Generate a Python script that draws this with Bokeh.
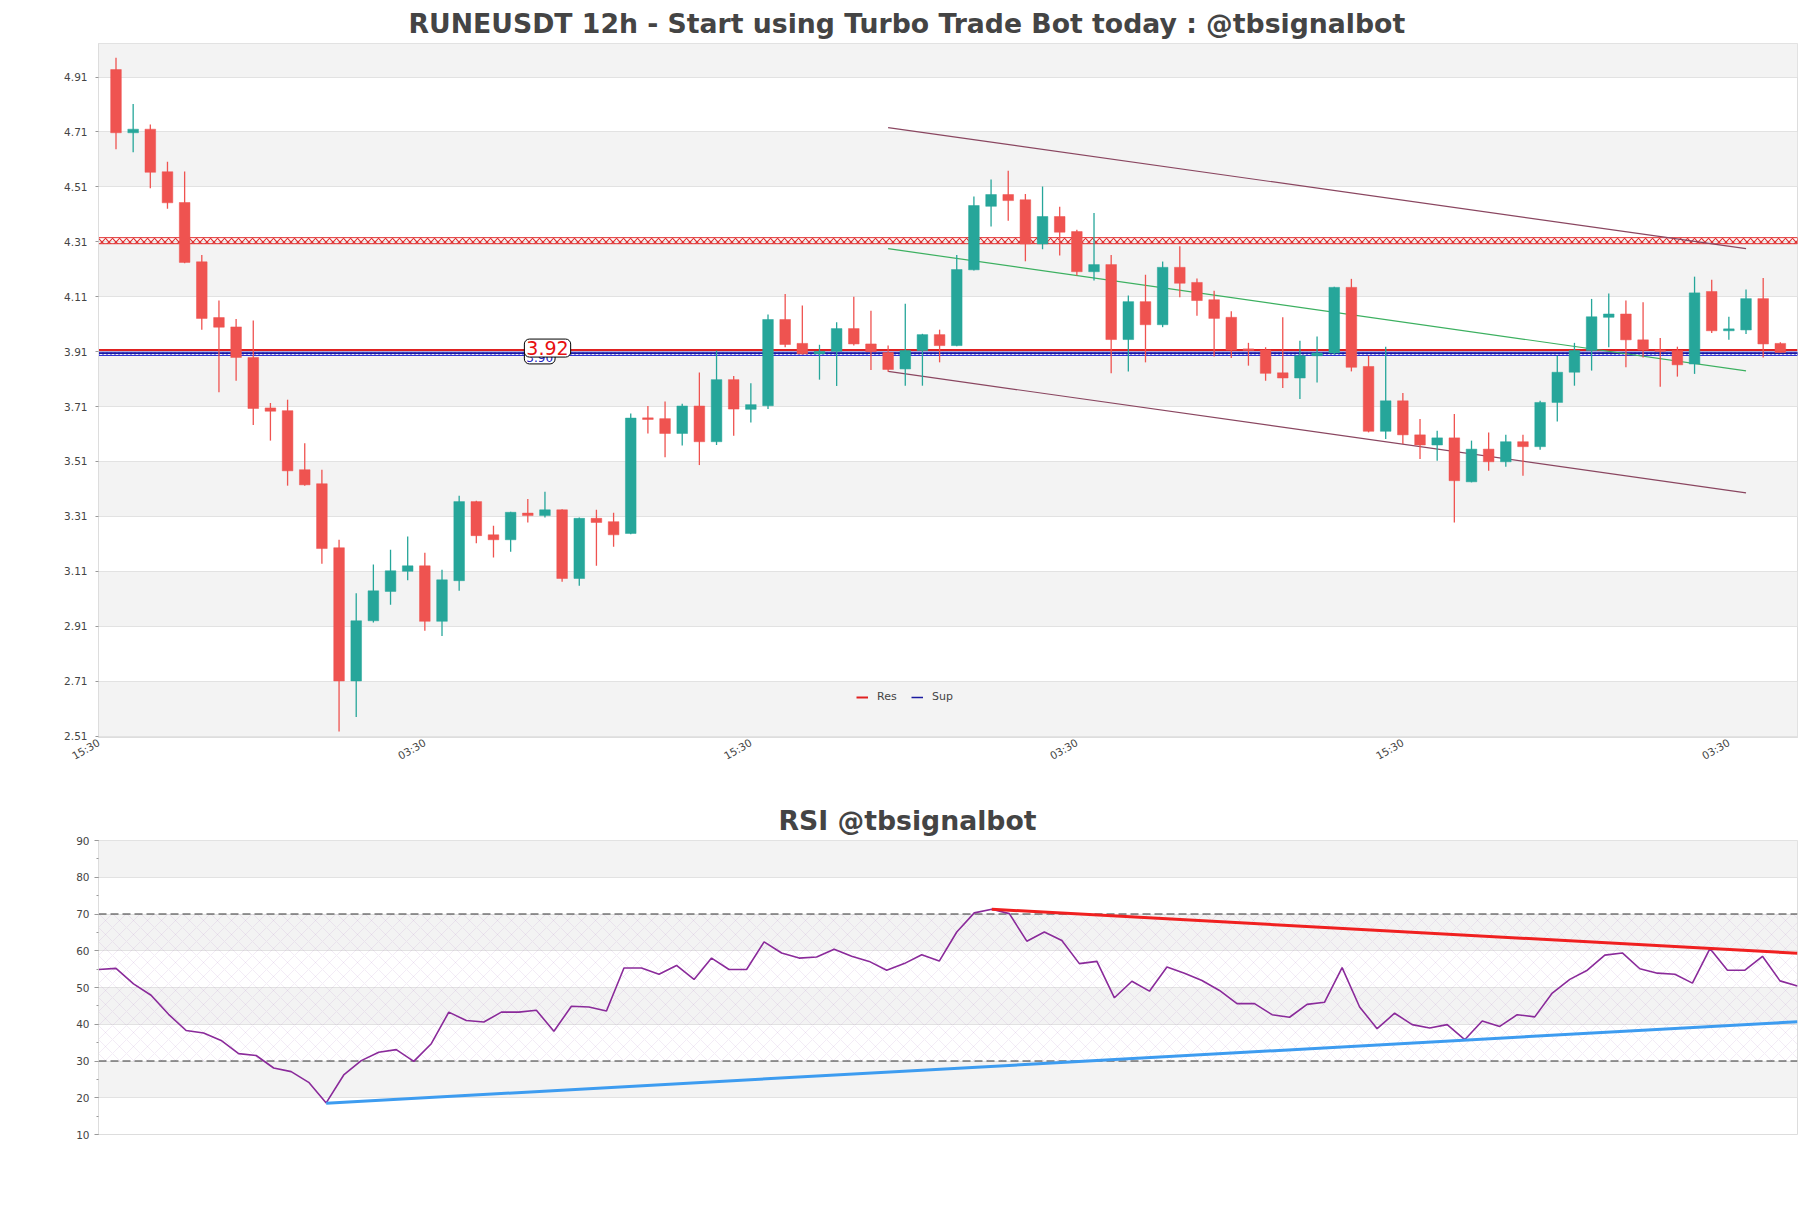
import math
from bokeh.plotting import figure
from bokeh.models import (Range1d, FixedTicker, SingleIntervalTicker, Legend, LegendItem,
                          Label, ColumnDataSource, PrintfTickFormatter)
from bokeh.layouts import column
from bokeh.embed import file_html
from bokeh.resources import INLINE

# ---------------- data ----------------
opens = [4.937, 4.707, 4.72, 4.565, 4.453, 4.237, 4.034, 4.0, 3.889, 3.705,
         3.695, 3.48, 3.429, 3.196, 2.711, 2.93, 3.037, 3.11, 3.13, 2.928,
         3.076, 3.364, 3.243, 3.225, 3.322, 3.313, 3.334, 3.084, 3.303, 3.291,
         3.248, 3.669, 3.666, 3.612, 3.712, 3.582, 3.808, 3.70, 3.713, 4.027,
         3.94, 3.902, 3.911, 3.994, 3.938, 3.907, 3.847, 3.914, 3.972, 3.932,
         4.208, 4.439, 4.482, 4.463, 4.302, 4.402, 4.347, 4.201, 4.227, 3.954,
         4.092, 4.008, 4.217, 4.162, 4.099, 4.035, 3.92, 3.916, 3.833, 3.814,
         3.895, 3.905, 4.144, 3.856, 3.62, 3.731, 3.607, 3.57, 3.596, 3.436,
         3.555, 3.509, 3.582, 3.564, 3.725, 3.835, 3.914, 4.035, 4.047, 3.953,
         3.916, 3.914, 3.865, 4.129, 3.986, 3.989, 4.103, 3.94]
highs = [4.98, 4.812, 4.737, 4.601, 4.566, 4.262, 4.096, 4.029, 4.023, 3.723,
         3.735, 3.576, 3.48, 3.225, 3.03, 3.135, 3.189, 3.237, 3.178, 3.116,
         3.385, 3.367, 3.276, 3.327, 3.373, 3.40, 3.336, 3.306, 3.334, 3.323,
         3.685, 3.712, 3.728, 3.72, 3.834, 3.914, 3.821, 3.795, 4.045, 4.12,
         4.078, 3.935, 4.017, 4.11, 4.059, 3.932, 4.084, 3.975, 3.99, 4.262,
         4.475, 4.537, 4.569, 4.484, 4.511, 4.438, 4.354, 4.415, 4.262, 4.114,
         4.19, 4.238, 4.294, 4.176, 4.132, 4.057, 3.942, 3.926, 4.035, 3.95,
         3.965, 4.146, 4.175, 3.895, 3.928, 3.759, 3.665, 3.622, 3.683, 3.586,
         3.616, 3.607, 3.607, 3.731, 3.895, 3.942, 4.102, 4.122, 4.096, 4.09,
         3.96, 3.928, 4.183, 4.172, 4.037, 4.136, 4.178, 3.944]
lows = [4.647, 4.636, 4.505, 4.43, 4.232, 3.99, 3.762, 3.804, 3.643, 3.586,
        3.422, 3.422, 3.138, 2.527, 2.58, 2.924, 2.988, 3.078, 2.894, 2.875,
        3.039, 3.212, 3.16, 3.181, 3.288, 3.306, 3.072, 3.058, 3.13, 3.2,
        3.245, 3.612, 3.525, 3.568, 3.497, 3.57, 3.604, 3.652, 3.701, 3.926,
        3.90, 3.808, 3.785, 3.932, 3.843, 3.837, 3.786, 3.786, 3.871, 3.93,
        4.205, 4.366, 4.387, 4.239, 4.283, 4.26, 4.187, 4.169, 3.831, 3.838,
        3.871, 3.999, 4.108, 4.041, 3.892, 3.887, 3.859, 3.804, 3.778, 3.738,
        3.798, 3.90, 3.838, 3.616, 3.592, 3.574, 3.519, 3.513, 3.288, 3.434,
        3.476, 3.491, 3.458, 3.553, 3.656, 3.786, 3.841, 3.926, 3.853, 3.889,
        3.782, 3.819, 3.829, 3.978, 3.953, 3.974, 3.889, 3.907]
closes = [4.707, 4.72, 4.563, 4.452, 4.235, 4.031, 3.999, 3.889, 3.703, 3.693,
          3.476, 3.425, 3.193, 2.711, 2.93, 3.039, 3.112, 3.13, 2.928, 3.079,
          3.364, 3.24, 3.225, 3.325, 3.313, 3.334, 3.084, 3.303, 3.288, 3.243,
          3.668, 3.663, 3.612, 3.712, 3.582, 3.808, 3.701, 3.717, 4.027, 3.936,
          3.902, 3.911, 3.994, 3.938, 3.91, 3.845, 3.914, 3.972, 3.932, 4.209,
          4.442, 4.482, 4.46, 4.302, 4.402, 4.345, 4.201, 4.227, 3.954, 4.092,
          4.008, 4.217, 4.159, 4.096, 4.031, 3.916, 3.914, 3.831, 3.814, 3.895,
          3.905, 4.144, 3.853, 3.62, 3.731, 3.607, 3.57, 3.596, 3.44, 3.555,
          3.509, 3.582, 3.564, 3.725, 3.835, 3.914, 4.037, 4.047, 3.953, 3.916,
          3.911, 3.862, 4.124, 3.986, 3.993, 4.103, 3.938, 3.907]

rsi = [54.9, 55.2, 51.0, 47.9, 42.7, 38.3, 37.6, 35.6, 32.0, 31.5,
       28.1, 27.1, 24.2, 18.6, 26.2, 30.1, 32.4, 33.1, 29.9, 34.7,
       43.3, 41.0, 40.6, 43.3, 43.3, 43.8, 38.1, 44.9, 44.7, 43.6,
       55.3, 55.3, 53.6, 56.0, 52.2, 58.0, 54.9, 54.9, 62.4, 59.4,
       58.0, 58.3, 60.4, 58.5, 57.1, 54.7, 56.5, 58.9, 57.2, 65.1,
       70.3, 71.3, 70.1, 62.6, 65.1, 62.8, 56.5, 57.1, 47.2, 51.7,
       49.0, 55.6, 53.9, 51.9, 49.2, 45.6, 45.6, 42.6, 41.9, 45.4,
       46.0, 55.4, 44.7, 38.8, 43.0, 39.9, 39.0, 39.9, 35.8, 40.9,
       39.4, 42.6, 42.0, 48.5, 52.2, 54.7, 58.8, 59.4, 55.1, 53.9,
       53.6, 51.2, 60.6, 54.7, 54.7, 58.5, 51.8, 50.4]

x_tick_pos = [-1, 18, 37, 56, 75, 94]
x_tick_labels = ["15:30", "03:30", "15:30", "03:30", "15:30", "03:30"]
price_ticks = [2.51, 2.71, 2.91, 3.11, 3.31, 3.51, 3.71, 3.91, 4.11, 4.31, 4.51, 4.71, 4.91]

res_band = 4.314          # resistance zone (hatched)
res_level = 3.916         # resistance near price
sup_level = 3.904         # support near price
res_label, sup_label = "3.92", "3.90"

chan_x = [45, 95]
chan_upper = [4.726, 4.285]
chan_mid = [4.285, 3.840]
chan_lower = [3.838, 3.396]

rsi_res_x, rsi_res_y = [51, 97], [71.3, 59.3]
rsi_sup_x, rsi_sup_y = [13, 97], [18.5, 40.7]
rsi_ob, rsi_os = 70, 30

TITLE = "RUNEUSDT 12h - Start using Turbo Trade Bot today : @tbsignalbot"
RSI_TITLE = "RSI @tbsignalbot"

UP, DOWN = "#26a69a", "#ef5350"
FONT = "DejaVu Sans"
XMIN, XMAX = -1.02, 98.0


def style_title(fig, text, offset):
    fig.title.text = text
    fig.title.align = "left"
    fig.title.offset = offset
    fig.title.text_font = FONT
    fig.title.text_font_size = "26.7px"
    fig.title.text_font_style = "bold"
    fig.title.text_color = "#444444"
    fig.title.standoff = 9


# ---------------- main chart ----------------
n = len(closes)
idx = list(range(n))
colors = [UP if c >= o else DOWN for o, c in zip(opens, closes)]
src = ColumnDataSource(dict(x=idx, o=opens, h=highs, l=lows, c=closes,
                            top=[max(o, c) for o, c in zip(opens, closes)],
                            bot=[min(o, c) for o, c in zip(opens, closes)],
                            color=colors))

p = figure(frame_width=1699, frame_height=694, output_backend="svg", toolbar_location=None,
           x_range=Range1d(XMIN, XMAX), y_range=Range1d(2.505, 5.032),
           min_border_left=98, min_border_right=6, min_border_top=43, min_border_bottom=50,
           background_fill_color="white", border_fill_color="white")
style_title(p, TITLE, 310)

p.outline_line_color = "#dddddd"
p.xgrid.visible = False
p.ygrid.grid_line_color = "#e2e2e2"
p.ygrid.band_fill_color = "#f3f3f3"
p.ygrid.band_fill_alpha = 1.0

p.yaxis.ticker = FixedTicker(ticks=price_ticks, minor_ticks=[])
p.yaxis.formatter = PrintfTickFormatter(format="%.2f")
p.xaxis.ticker = FixedTicker(ticks=x_tick_pos, minor_ticks=[])
p.xaxis.major_label_overrides = {t: l for t, l in zip(x_tick_pos, x_tick_labels)}
p.xaxis.major_label_orientation = math.pi / 6
for ax in (p.xaxis, p.yaxis):
    ax.axis_line_color = "#dddddd"
    ax.major_label_text_font = FONT
    ax.major_label_text_font_size = "10.5px"
    ax.major_label_text_color = "#444444"
    ax.major_tick_line_color = "#999999"
    ax.major_tick_in = 0
    ax.major_tick_out = 3
p.xaxis.major_tick_out = 0
p.xaxis.major_label_standoff = 4
p.yaxis.major_label_standoff = 8

# levels
p.hbar(y=[res_band], left=XMIN, right=XMAX, height=0.022, fill_alpha=0,
       line_color="#e03030", line_width=1, hatch_pattern="x", hatch_color="#e03030",
       hatch_scale=7, hatch_weight=1.2)
p.hbar(y=[sup_level - 0.002], left=XMIN, right=XMAX, height=0.012, fill_alpha=0,
       line_color="#2a2ad0", line_width=1, hatch_pattern="vertical_line", hatch_color="#2a2ad0",
       hatch_scale=4, hatch_weight=1)
r_res = p.line([XMIN, XMAX], [res_level, res_level], line_color="#e02020", line_width=2)
r_sup = p.line([XMIN, XMAX], [sup_level, sup_level], line_color="#1a1aa0", line_width=1.5)

# channel
p.line(chan_x, chan_upper, line_color="#8a4660", line_width=1.2)
p.line(chan_x, chan_lower, line_color="#8a4660", line_width=1.2)
p.line(chan_x, chan_mid, line_color="#3cb060", line_width=1.2)

# candles
p.segment(x0="x", x1="x", y0="l", y1="h", color="color", line_width=1.3, source=src)
p.vbar(x="x", top="top", bottom="bot", width=0.62, fill_color="color", line_color="color",
       line_width=0.5, source=src)

p.add_layout(Label(x=23.8, y=3.889, text=sup_label, text_color="#2020c0", text_font=FONT,
                   text_font_size="12px", text_baseline="middle", background_fill_color="white",
                   border_line_color="black", border_line_width=1, padding=2, border_radius=5))
p.add_layout(Label(x=23.8, y=3.923, text=res_label, text_color="#e81010", text_font=FONT,
                   text_font_size="19px", text_baseline="middle", background_fill_color="white",
                   border_line_color="black", border_line_width=1, padding=2, border_radius=5))

legend = Legend(items=[LegendItem(label="Res", renderers=[r_res]),
                       LegendItem(label="Sup", renderers=[r_sup])],
                orientation="horizontal", location=(748, 24), background_fill_alpha=0,
                border_line_alpha=0, label_text_font=FONT, label_text_font_size="11px",
                glyph_width=12, glyph_height=10, spacing=14, label_standoff=9)
p.add_layout(legend)

# ---------------- RSI ----------------
q = figure(frame_width=1699, frame_height=294, output_backend="svg", toolbar_location=None,
           x_range=Range1d(0, n - 1), y_range=Range1d(10, 90),
           min_border_left=98, min_border_right=6, min_border_top=53, min_border_bottom=60,
           background_fill_color="white", border_fill_color="white")
style_title(q, RSI_TITLE, 680)
q.outline_line_color = "#dddddd"
q.xgrid.visible = False
q.xaxis.visible = False
q.ygrid.grid_line_color = "#e2e2e2"
q.ygrid.band_fill_color = "#f3f3f3"
q.ygrid.band_fill_alpha = 1.0
q.yaxis.ticker = SingleIntervalTicker(interval=10, num_minor_ticks=2)
q.yaxis.axis_line_color = "#dddddd"
q.yaxis.major_label_text_font = FONT
q.yaxis.major_label_text_font_size = "10.5px"
q.yaxis.major_label_text_color = "#444444"
q.yaxis.major_tick_line_color = "#999999"
q.yaxis.minor_tick_line_color = "#999999"
q.yaxis.major_tick_in = 0
q.yaxis.major_tick_out = 4
q.yaxis.minor_tick_in = 0
q.yaxis.minor_tick_out = 2

q.hbar(y=[(rsi_ob + rsi_os) / 2], left=0, right=n - 1, height=rsi_ob - rsi_os, fill_alpha=0,
       line_alpha=0, hatch_pattern="x", hatch_color="#b080c0", hatch_alpha=0.3,
       hatch_scale=14, hatch_weight=0.5)
q.line([0, n - 1], [rsi_ob, rsi_ob], line_color="#333333", line_width=1.2, line_dash="8 4")
q.line([0, n - 1], [rsi_os, rsi_os], line_color="#333333", line_width=1.2, line_dash="8 4")
q.line(idx, rsi, line_color="#8a2a9a", line_width=1.6)
q.line(rsi_res_x, rsi_res_y, line_color="#f02020", line_width=3)
q.line(rsi_sup_x, rsi_sup_y, line_color="#3d9cf0", line_width=3)

layout = column(p, q)
open("out.html", "w").write(file_html(layout, INLINE))
